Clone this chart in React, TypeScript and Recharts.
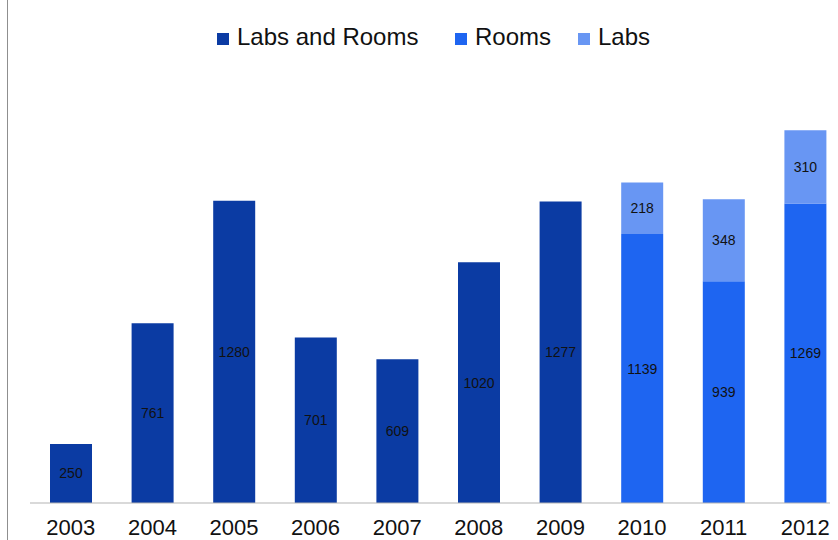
import React from 'react';
import { BarChart, Bar, XAxis, YAxis, Legend, LabelList } from 'recharts';

const years = ['2003', '2004', '2005', '2006', '2007', '2008', '2009', '2010', '2011', '2012'];
const labsAndRooms: (number | null)[] = [250, 761, 1280, 701, 609, 1020, 1277, null, null, null];
const rooms: (number | null)[] = [null, null, null, null, null, null, null, 1139, 939, 1269];
const labs: (number | null)[] = [null, null, null, null, null, null, null, 218, 348, 310];

const data = years.map((y, i) => ({
  year: y,
  labsAndRooms: labsAndRooms[i],
  rooms: rooms[i],
  labs: labs[i],
}));

const FONT = '"Liberation Sans", Arial, sans-serif';
const COLORS = { labsAndRooms: '#0B3BA3', rooms: '#1E65F1', labs: '#6896F3' };

// legend item x positions (in chart pixels)
const legendItems = [
  { key: 'labsAndRooms', label: 'Labs and Rooms', left: 209 },
  { key: 'rooms', label: 'Rooms', left: 447 },
  { key: 'labs', label: 'Labs', left: 570 },
];

const CustomLegend = () => (
  <div style={{ position: 'relative', width: 852, height: 30, fontFamily: FONT, fontSize: 24, color: '#111' }}>
    {legendItems.map((it) => (
      <div key={it.key} style={{ position: 'absolute', left: it.left, top: 0, display: 'flex', alignItems: 'center', whiteSpace: 'nowrap' }}>
        <span style={{ display: 'inline-block', width: 12, height: 12, background: (COLORS as any)[it.key], marginRight: 8, marginTop: 3 }} />
        <span style={{ lineHeight: '28px' }}>{it.label}</span>
      </div>
    ))}
  </div>
);

const fmt = (v: any) => (v === null || v === undefined ? '' : v);

export default function App() {
  return (
    <div style={{ position: 'relative', width: 830, height: 532 }}>
      <div style={{ position: 'fixed', left: 7, top: 0, width: 1, height: 540, background: '#8f8f8f', zIndex: 10 }} />
      <div style={{ position: 'absolute', left: 0, top: 0, width: 830, height: 532, overflow: 'hidden' }}>
        <BarChart
          width={852}
          height={532}
          data={data}
          margin={{ top: 70, right: 14, bottom: 0, left: 22 }}
          barSize={42}
        >
          <XAxis
            dataKey="year"
            height={37}
            tickLine={false}
            tickSize={6}
            tickMargin={10}
            axisLine={{ stroke: '#b3b3b3' }}
            tick={{ fill: '#111', fontSize: 22, fontFamily: FONT }}
            interval={0}
          />
          <YAxis hide domain={[0, 1800]} />
          <Legend
            verticalAlign="middle"
            align="center"
            content={() => <CustomLegend />}
            wrapperStyle={{ top: 15, left: 0, width: 852 }}
          />
          <Bar dataKey="labsAndRooms" stackId="a" fill={COLORS.labsAndRooms} isAnimationActive={false} name="Labs and Rooms">
            <LabelList dataKey="labsAndRooms" position="center" formatter={fmt} style={{ fill: '#111', fontSize: 14, fontFamily: FONT }} />
          </Bar>
          <Bar dataKey="rooms" stackId="a" fill={COLORS.rooms} isAnimationActive={false} name="Rooms">
            <LabelList dataKey="rooms" position="center" formatter={fmt} style={{ fill: '#111', fontSize: 14, fontFamily: FONT }} />
          </Bar>
          <Bar dataKey="labs" stackId="a" fill={COLORS.labs} isAnimationActive={false} name="Labs">
            <LabelList dataKey="labs" position="center" formatter={fmt} style={{ fill: '#111', fontSize: 14, fontFamily: FONT }} />
          </Bar>
        </BarChart>
      </div>
    </div>
  );
}
